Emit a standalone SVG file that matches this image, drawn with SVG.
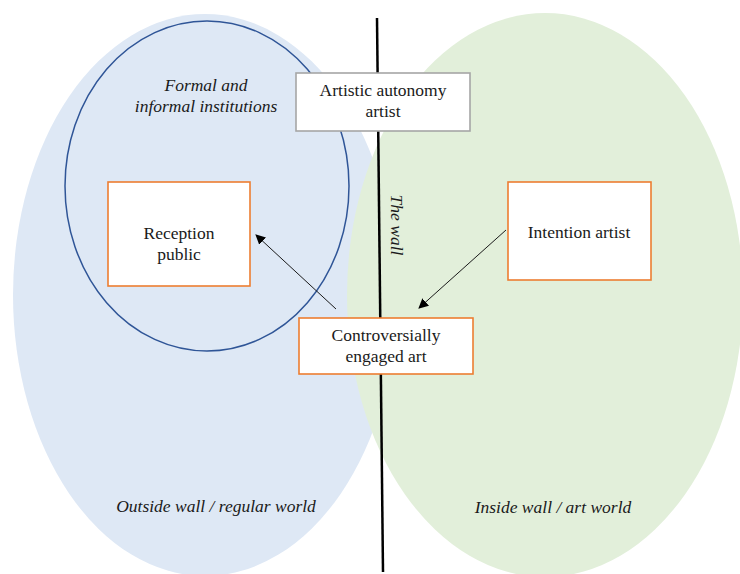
<svg xmlns="http://www.w3.org/2000/svg" width="740" height="574" viewBox="0 0 740 574">
<style>
.t{font-family:"Liberation Serif","Times New Roman",serif;font-size:17.5px;fill:#1a1a1a;text-anchor:middle}
.i{font-style:italic}
.ob{fill:#fff;stroke:#ED7D31;stroke-width:1.6}
.gb{fill:#fff;stroke:#A6A6A6;stroke-width:1.6}
.c{stroke:#1a1a1a;stroke-width:1;fill:none;marker-end:url(#ah)}
</style>
<defs>
<marker id="ah" viewBox="0 0 10 10" refX="9" refY="5" markerWidth="10" markerHeight="10" markerUnits="userSpaceOnUse" orient="auto">
<path d="M0,0 L10,5 L0,10 z" fill="#000"/>
</marker>
</defs>
<rect width="740" height="574" fill="#fff"/>
<g id="outside-world">
<ellipse cx="205" cy="295" rx="192" ry="281" fill="#DEE8F5"/>
</g>
<g id="inside-world">
<ellipse cx="545" cy="295" rx="198" ry="282" fill="#E2EFDA"/>
</g>
<g id="institutions">
<ellipse cx="207" cy="186" rx="142" ry="165" fill="none" stroke="#2F5597" stroke-width="1.5"/>
<text class="t i" x="206" y="91">Formal and</text>
<text class="t i" x="206" y="112">informal institutions</text>
</g>
<g id="wall">
<line x1="377" y1="18" x2="383" y2="572" stroke="#000" stroke-width="2.5"/>
<text class="t i" transform="translate(391,225) rotate(90)">The wall</text>
</g>
<g id="connectors">
<line class="c" x1="336" y1="309" x2="256" y2="235"/>
<line class="c" x1="506" y1="230" x2="419" y2="308"/>
</g>
<g id="autonomy">
<rect class="gb" x="296" y="73" width="174" height="58"/>
<text class="t" x="383" y="96">Artistic autonomy</text>
<text class="t" x="383" y="117">artist</text>
</g>
<g id="reception">
<rect class="ob" x="108" y="182" width="142" height="104"/>
<text class="t" x="179" y="239">Reception</text>
<text class="t" x="179" y="260">public</text>
</g>
<g id="intention">
<rect class="ob" x="508" y="182" width="143" height="98"/>
<text class="t" x="579" y="238">Intention artist</text>
</g>
<g id="controversial">
<rect class="ob" x="299" y="318" width="174" height="56"/>
<text class="t" x="386" y="341">Controversially</text>
<text class="t" x="386" y="362">engaged art</text>
</g>
<g id="labels">
<text class="t i" x="216" y="512">Outside wall / regular world</text>
<text class="t i" x="553" y="513">Inside wall / art world</text>
</g>
</svg>
